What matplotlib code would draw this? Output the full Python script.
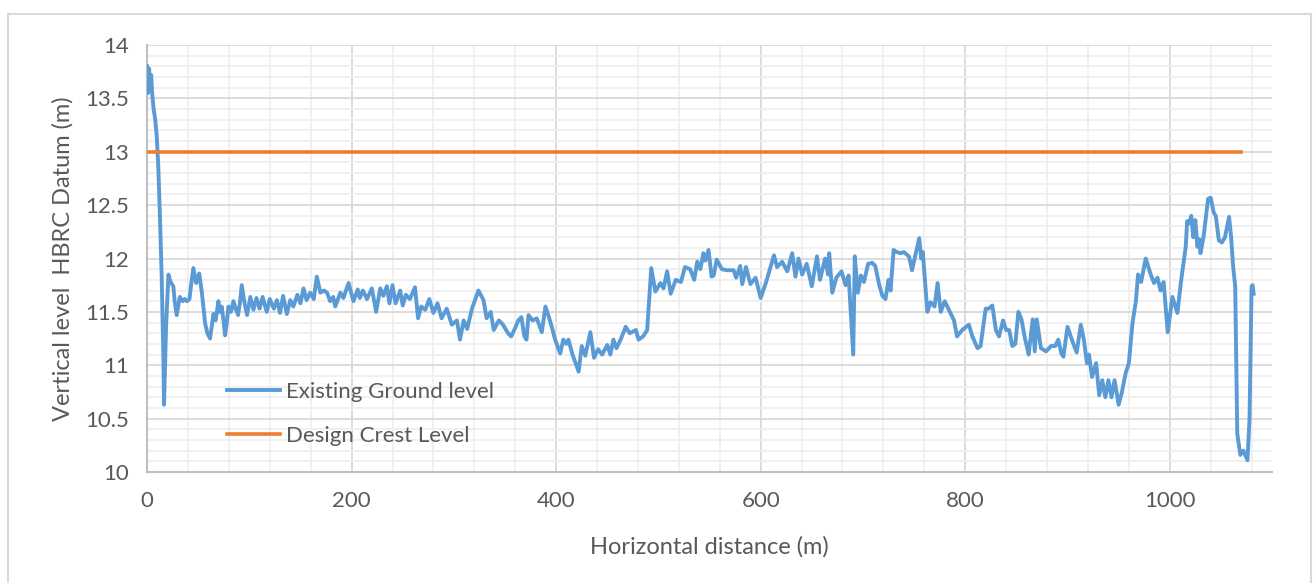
import matplotlib
matplotlib.use("Agg")
import matplotlib.pyplot as plt
from matplotlib.patches import Rectangle
from matplotlib.ticker import MultipleLocator

# ground survey profile along the embankment (distance m, level m HBRC datum)
dist = [0, 1, 2, 3, 4, 5, 6.2, 8, 9.5, 11, 12.7, 14.3, 16, 16.6, 18.6, 20.9, 23, 25.7,
        27, 29, 32, 35, 37, 39, 41.5, 43, 45.3, 48, 51, 53.6, 56.8, 59, 61.6, 63, 64.9,
        67, 69.8, 71, 73, 75, 76.3, 78, 79.5, 82, 84.4, 87, 89, 91, 92.6, 95, 97.8, 101,
        104, 107, 110, 113, 117, 120, 124, 127, 130, 133, 136.7, 140, 143, 147, 150, 153,
        156, 159.5, 163, 166, 169.5, 173, 176, 179, 182, 184, 189, 192, 197, 201.8, 206,
        208, 211, 215, 219.8, 224, 228, 231, 234.5, 237, 240, 243, 247.5, 250, 253, 257,
        262, 265, 268, 272, 276, 280, 284, 288, 293, 298, 303, 306, 309.6, 313, 317.7,
        324, 329, 332, 336, 339, 344, 348, 353, 356, 360, 363, 366, 369, 371, 373, 377,
        381, 386, 389.5, 393, 396, 399, 404, 407, 410, 412, 416, 419, 422, 425, 428.5,
        433.5, 437, 441, 445, 450, 453, 456, 459, 463, 468, 472, 478, 480.6, 485, 489,
        493, 497, 502, 505, 508.5, 512, 517, 522, 526, 531, 535, 538, 541, 544, 546, 549,
        552, 554, 557, 562, 567, 573.6, 576, 580, 582, 585.6, 590, 595, 600, 605, 609.6,
        613, 616, 621, 626, 630.8, 634, 637, 640.5, 645, 650, 655, 658, 663, 666, 667,
        670, 674, 679, 683, 686, 690.5, 692, 695, 698, 701, 705, 709, 712, 716, 719, 722,
        725, 727, 730, 733, 737, 740, 745, 748, 752, 755, 757, 758.5, 763, 766, 770, 773,
        776, 780, 784, 789, 792, 797, 803.6, 807, 812, 815, 820, 823, 826.5, 830, 833,
        837, 840, 843, 846, 849, 852, 855, 858, 862, 866, 868, 870, 874, 879, 884, 888,
        891, 894, 896, 900, 905, 909, 913, 916, 919, 921, 924, 928, 931, 934, 937, 940,
        943, 946, 950, 953, 957, 960, 963.5, 967, 969, 972, 976.5, 981, 984.6, 988, 991,
        994, 998, 1002.6, 1007.5, 1010.8, 1015.6, 1017, 1019, 1021, 1023, 1025, 1027,
        1029, 1030, 1033, 1037.5, 1040, 1043, 1045, 1048, 1051, 1054, 1058, 1060, 1062,
        1064, 1066, 1069, 1072, 1076, 1078, 1080, 1081, 1082]
ground = [13.8, 13.55, 13.78, 13.6, 13.72, 13.55, 13.42, 13.3, 13.14, 12.86, 12.36, 11.83,
          11.05, 10.63, 11.36, 11.85, 11.78, 11.74, 11.6, 11.47, 11.64, 11.6, 11.62, 11.6,
          11.62, 11.75, 11.91, 11.77, 11.86, 11.68, 11.39, 11.3, 11.25, 11.35, 11.48, 11.42,
          11.6, 11.5, 11.55, 11.4, 11.28, 11.4, 11.55, 11.5, 11.6, 11.52, 11.47, 11.6, 11.75,
          11.6, 11.47, 11.64, 11.52, 11.63, 11.53, 11.64, 11.5, 11.62, 11.53, 11.61, 11.49,
          11.65, 11.48, 11.61, 11.55, 11.66, 11.58, 11.72, 11.61, 11.68, 11.62, 11.83, 11.68,
          11.7, 11.68, 11.6, 11.64, 11.55, 11.68, 11.63, 11.77, 11.6, 11.71, 11.63, 11.7,
          11.62, 11.72, 11.5, 11.72, 11.65, 11.74, 11.58, 11.75, 11.58, 11.7, 11.56, 11.66,
          11.62, 11.73, 11.44, 11.55, 11.52, 11.62, 11.49, 11.58, 11.44, 11.53, 11.38, 11.42,
          11.24, 11.42, 11.34, 11.53, 11.7, 11.61, 11.44, 11.5, 11.33, 11.42, 11.38, 11.3,
          11.27, 11.35, 11.42, 11.45, 11.27, 11.24, 11.47, 11.42, 11.44, 11.31, 11.55, 11.45,
          11.35, 11.24, 11.11, 11.24, 11.2, 11.24, 11.1, 11.02, 10.94, 11.18, 11.09, 11.31,
          11.07, 11.15, 11.1, 11.19, 11.1, 11.24, 11.16, 11.24, 11.36, 11.3, 11.33, 11.24,
          11.27, 11.33, 11.91, 11.69, 11.77, 11.72, 11.88, 11.67, 11.8, 11.78, 11.92, 11.9,
          11.8, 11.97, 11.9, 12.05, 11.98, 12.08, 11.83, 11.84, 11.99, 11.9, 11.89, 11.89,
          11.82, 11.93, 11.76, 11.92, 11.76, 11.82, 11.63, 11.77, 11.92, 12.03, 11.92, 11.97,
          11.88, 12.05, 11.83, 12.0, 11.85, 11.95, 11.74, 12.02, 11.8, 12.0, 11.85, 12.05,
          11.68, 11.82, 11.88, 11.75, 11.84, 11.1, 12.02, 11.68, 11.84, 11.78, 11.95, 11.96,
          11.93, 11.75, 11.65, 11.62, 11.8, 11.7, 12.08, 12.06, 12.05, 12.06, 12.02, 11.89,
          12.06, 12.19, 12.0, 12.06, 11.5, 11.59, 11.55, 11.77, 11.5, 11.6, 11.52, 11.42,
          11.27, 11.33, 11.38, 11.27, 11.16, 11.18, 11.53, 11.53, 11.56, 11.33, 11.27, 11.42,
          11.33, 11.33, 11.18, 11.2, 11.5, 11.43, 11.27, 11.1, 11.43, 11.13, 11.43, 11.16,
          11.13, 11.18, 11.18, 11.24, 11.11, 11.08, 11.36, 11.22, 11.12, 11.38, 11.24, 11.02,
          11.1, 10.89, 11.02, 10.72, 10.86, 10.7, 10.86, 10.7, 10.86, 10.63, 10.74, 10.93,
          11.02, 11.39, 11.61, 11.85, 11.78, 12.0, 11.86, 11.77, 11.82, 11.7, 11.78, 11.31,
          11.64, 11.49, 11.77, 12.11, 12.35, 12.33, 12.4, 12.2, 12.36, 12.11, 12.18, 12.05,
          12.2, 12.56, 12.57, 12.43, 12.4, 12.17, 12.15, 12.2, 12.39, 12.2, 11.92, 11.74,
          10.36, 10.16, 10.2, 10.11, 10.5, 11.74, 11.75, 11.67]

crest_dist = [0, 1070]
crest_level = [13.0, 13.0]

plt.rcParams['font.family'] = ['Lato', 'DejaVu Sans']

fig = plt.figure(figsize=(13.13, 5.83), dpi=100)
fig.patch.set_facecolor('white')
# light frame round the whole chart
fig.patches.append(Rectangle((0.006, -0.02), 0.9925, 0.996, transform=fig.transFigure,
                             fill=False, edgecolor='#D9D9D9', linewidth=1.5))

ax = fig.add_axes([0.112, 0.1904, 0.8568, 0.7324])
ax.plot(dist, ground, color='#5B9BD5', linewidth=2.8, label='Existing Ground level', zorder=3)
ax.plot(crest_dist, crest_level, color='#ED7D31', linewidth=2.6, label='Design Crest Level', zorder=3)

ax.set_xlim(0, 1100)
ax.set_ylim(10, 14)
ax.xaxis.set_major_locator(MultipleLocator(200))
ax.xaxis.set_minor_locator(MultipleLocator(40))
ax.yaxis.set_major_locator(MultipleLocator(0.5))
ax.yaxis.set_minor_locator(MultipleLocator(0.1))
ax.set_yticks([10, 10.5, 11, 11.5, 12, 12.5, 13, 13.5, 14])
ax.set_yticklabels(['10', '10.5', '11', '11.5', '12', '12.5', '13', '13.5', '14'])

ax.grid(which='major', color='#D9D9D9', linewidth=1.3, zorder=0)
ax.grid(which='minor', color='#EFEFEF', linewidth=1.3, zorder=0)
ax.set_axisbelow(True)

for side in ['top', 'right']:
    ax.spines[side].set_visible(False)
for side in ['left', 'bottom']:
    ax.spines[side].set_color('#BFBFBF')
    ax.spines[side].set_linewidth(1.5)

ax.tick_params(which='both', length=0, labelsize=16, labelcolor='#595959')
ax.tick_params(axis='y', pad=13)
ax.tick_params(axis='x', pad=14)

ax.set_xlabel('Horizontal distance (m)', fontsize=17, color='#595959', labelpad=18)
ax.set_ylabel('Vertical level  HBRC Datum (m)', fontsize=17, color='#595959', labelpad=8)

ax.legend(loc='center left', bbox_to_anchor=(0.071, 0.136), frameon=False, fontsize=16,
          labelcolor='#595959', handlelength=2.4, handletextpad=0.25, labelspacing=1.1,
          borderpad=0, borderaxespad=0)

fig.savefig('out.png', dpi=100, facecolor='white')
